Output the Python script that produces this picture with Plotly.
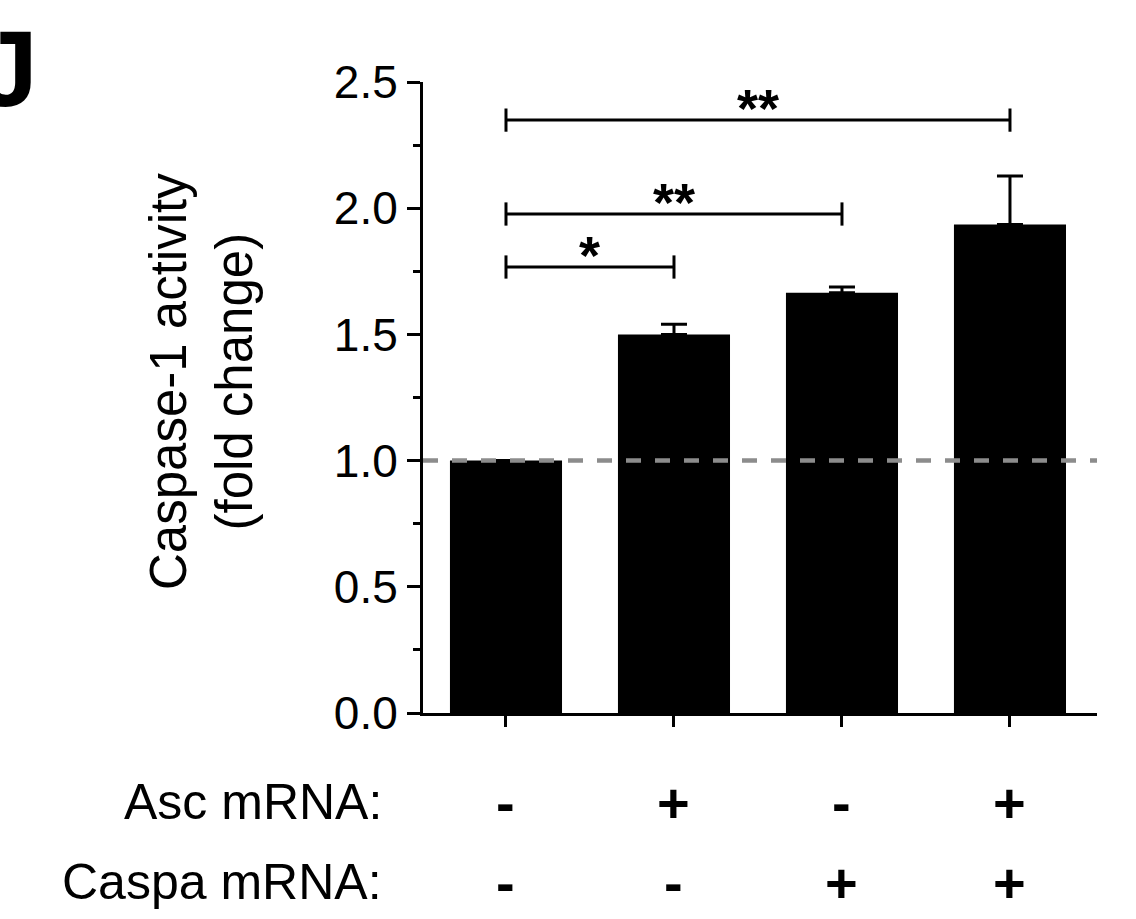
import plotly.graph_objects as go

# ---- data ----
groups = [0, 1, 2, 3]
means = [1.0, 1.50, 1.665, 1.935]
sem_up = [0.0, 0.04, 0.023, 0.193]
asc_mrna = ["-", "+", "-", "+"]
caspa_mrna = ["-", "-", "+", "+"]
row_labels = ["Asc mRNA:", "Caspa mRNA:"]
y_ticks = [0.0, 0.5, 1.0, 1.5, 2.0, 2.5]
baseline = 1.0
# comparisons: (from group, to group, label, bracket height)
comparisons = [(0, 1, "*", 1.767), (0, 2, "**", 1.977), (0, 3, "**", 2.349)]

W, H = 1136, 919
L, R, T, B = 423, 39, 82, 206
PW, PH = W - L - R, H - T - B
FONT = "Arial, Liberation Sans, Helvetica, sans-serif"


def px_x(p):
    return (p - L) / PW


def px_y(p):
    return (H - B - p) / PH


fig = go.Figure()
fig.add_trace(go.Bar(
    x=groups, y=means, width=0.667,
    marker=dict(color="black", line=dict(width=0)),
    error_y=dict(type="data", array=sem_up, arrayminus=[0] * len(sem_up),
                 symmetric=False, color="black", thickness=3, width=13),
    showlegend=False,
))

shapes = []
# dashed baseline
shapes.append(dict(type="line", xref="paper", yref="y", x0=0, x1=1,
                   y0=baseline, y1=baseline, layer="above",
                   line=dict(color="#8c8c8c", width=4.5, dash="15px,14px")))
cap = 0.046
annotations = []
for a, b, lab, h in comparisons:
    shapes.append(dict(type="line", xref="x", yref="y", x0=a, x1=b, y0=h, y1=h,
                       line=dict(color="black", width=3)))
    for xx in (a, b):
        shapes.append(dict(type="line", xref="x", yref="y", x0=xx, x1=xx,
                           y0=h - cap, y1=h + cap, line=dict(color="black", width=3)))
    annotations.append(dict(x=(a + b) / 2, y=h, xref="x", yref="y", text="<b>" + lab + "</b>",
                            showarrow=False, yanchor="bottom", yshift=-20,
                            font=dict(family=FONT, size=54, color="black")))

# row labels
for lab, yp in zip(row_labels, [802, 882]):
    annotations.append(dict(x=px_x(384), y=px_y(yp), xref="paper", yref="paper",
                            text=lab, showarrow=False, xanchor="right", yanchor="middle",
                            font=dict(family=FONT, size=50, color="black")))
for row, yp in zip([asc_mrna, caspa_mrna], [802, 882]):
    for g, s in zip(groups, row):
        annotations.append(dict(x=g, y=px_y(yp), xref="x", yref="paper", text="<b>" + s + "</b>",
                                showarrow=False, xanchor="center", yanchor="middle",
                                font=dict(family=FONT, size=56, color="black")))

# y title
annotations.append(dict(x=px_x(201), y=px_y(382), xref="paper", yref="paper",
                        text="Caspase-1 activity<br>(fold change)", textangle=-90,
                        showarrow=False, xanchor="center", yanchor="middle",
                        font=dict(family=FONT, size=51, color="black")))
# panel letter
annotations.append(dict(x=px_x(40), y=px_y(6), xref="paper", yref="paper",
                        text="<b>J</b>", showarrow=False, xanchor="right", yanchor="top",
                        font=dict(family=FONT, size=108, color="black")))

fig.update_layout(
    width=W, height=H,
    margin=dict(l=L, r=R, t=T, b=B, pad=0),
    plot_bgcolor="white", paper_bgcolor="white",
    bargap=0.333,
    shapes=shapes, annotations=annotations,
    xaxis=dict(range=[-0.494, 3.518], tickvals=groups, showticklabels=False,
               ticks="outside", ticklen=11, tickwidth=3, tickcolor="black",
               showline=True, linewidth=3, linecolor="black",
               showgrid=False, zeroline=False),
    yaxis=dict(range=[0, 2.5], tickvals=y_ticks, tickformat=".1f",
               ticks="outside", ticklen=13, tickwidth=3, tickcolor="black",
               showline=True, linewidth=3, linecolor="black",
               showgrid=False, zeroline=False,
               tickfont=dict(family=FONT, size=46, color="black"),
               minor=dict(dtick=0.25, ticks="outside", ticklen=7, tickwidth=3,
                          tickcolor="black", showgrid=False)),
)

fig.write_html("out.html", config={"displayModeBar": False},
               post_script="document.body.style.margin='0';document.body.style.padding='0';")
